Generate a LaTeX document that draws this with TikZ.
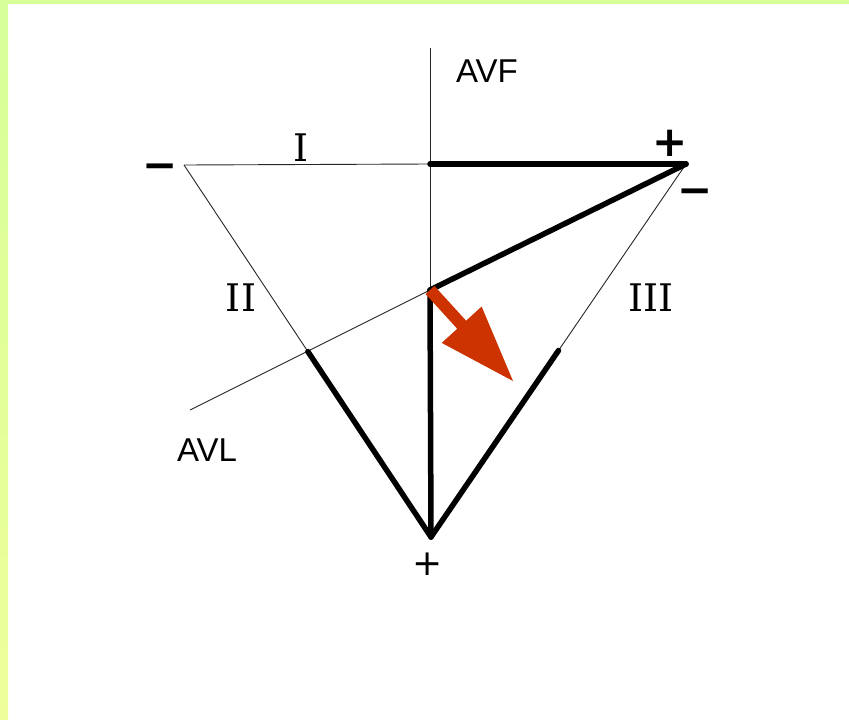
\documentclass[tikz,border=0pt]{standalone}
\usepackage{fontspec}
\setmainfont{DejaVu Serif}
\newfontfamily\arialf{Liberation Sans}
\newfontfamily\symf{DejaVu Sans}
\newfontfamily\symbf{DejaVu Sans Bold}
\usetikzlibrary{calc}
\definecolor{bordergreen}{HTML}{D6FF99}
\definecolor{bordergreenlow}{HTML}{EEFF99}
\definecolor{arrowred}{RGB}{204,51,0}
\begin{document}
\begin{tikzpicture}[x=1pt,y=-1pt,
  thinline/.style={line width=0.9pt, black!85},
  thickline/.style={line width=5.5pt, line cap=round, black},
  leadlabel/.style={inner sep=0pt, font=\fontsize{38}{38}\selectfont},
  axislabel/.style={inner sep=0pt, font=\arialf\fontsize{33}{33}\selectfont},
  signlabel/.style={inner sep=0pt, font=\symf\fontsize{38}{38}\selectfont}]
% page and border
\fill[white] (0,0) rectangle (849,720);
\useasboundingbox (0,0) rectangle (849,720);
\fill[bordergreen] (0,0) rectangle (849,4);
\shade[top color=bordergreen, bottom color=bordergreenlow] (0,0) rectangle (8,720);
% key points
\coordinate (L) at (184,165);
\coordinate (R) at (686,164);
\coordinate (B) at (431,537);
\coordinate (O) at (430,290);
\coordinate (T) at (430,48);
\coordinate (P) at (430,164);
\coordinate (A) at (190,410);
\coordinate (Q) at (intersection of L--B and A--R);
\coordinate (S) at ($(R)!0.5!(B)$);
% thin lines
\draw[thinline] (T) -- (O);
\draw[thinline] (L) -- (P);
\draw[thinline] (A) -- (O);
\draw[thinline] (L) -- (Q);
\draw[thinline] (R) -- (S);
% thick lines
\draw[thickline] (O) -- (B);
\draw[thickline] (P) -- (R);
\draw[thickline] (O) -- (R);
\draw[thickline] (Q) -- (B);
\draw[thickline] (S) -- (B);
% red arrow
\coordinate (tip) at (513,381);
\coordinate (hb) at ($(O)!47pt!(tip)$);
\fill[arrowred] ($(O)!6pt!90:(tip)$) -- ($(hb)!6pt!90:(tip)$) -- ($(hb)!27pt!90:(tip)$)
  -- (tip) -- ($(hb)!27pt!-90:(tip)$) -- ($(hb)!6pt!-90:(tip)$) -- ($(O)!6pt!-90:(tip)$) -- cycle;
% labels
\node[axislabel] (avf) at (487,71) {AVF};
\node[axislabel] (avl) at (207,450) {AVL};
\node[leadlabel] (lI) at (301,148) {I};
\node[leadlabel] (lII) at (241,298) {II};
\node[leadlabel] (lIII) at (651,298) {III};
\node[signlabel, font=\symbf\fontsize{42}{42}\selectfont] (pR) at (670,143) {+};
\node[signlabel, font=\symbf\fontsize{42}{42}\selectfont] (mR) at (695,197) {−};
\node[signlabel, font=\symbf\fontsize{42}{42}\selectfont] (mL) at (160,172) {−};
\node[signlabel, font=\symf\fontsize{36}{36}\selectfont] (pB) at (428,564) {+};
\end{tikzpicture}
\end{document}
